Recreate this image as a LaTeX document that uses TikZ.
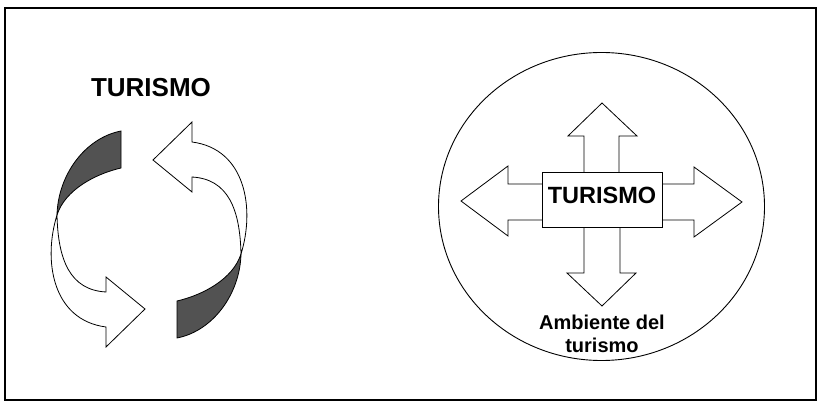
\documentclass[tikz,border=0pt]{standalone}
\usepackage{fontspec}
\setmainfont{Liberation Sans}
\usetikzlibrary{positioning}

\tikzset{
    outline/.style={draw=black, line width=0.8pt, line join=miter},
    whitepart/.style={outline, fill=white},
    shadedpart/.style={outline, fill=black!68},
    bigtitle/.style={font=\bfseries\fontsize{26}{30}\selectfont},
    boxlabel/.style={draw=black, line width=0.8pt, fill=white, minimum width=120pt,
        minimum height=55pt, text depth=8pt, inner sep=0pt,
        font=\bfseries\fontsize{23.5}{27}\selectfont},
    envlabel/.style={align=center, font=\bfseries\fontsize{20}{23}\selectfont}
}

\begin{document}
\begin{tikzpicture}[x=1pt, y=-1pt]
    \useasboundingbox (0,0) rectangle (820,406);

    % Outer frame
    \draw[line width=1.5pt] (5,8) rectangle (816,400);

    % Left part: title and twisted cycle arrows
    \node[bigtitle] (title) at (151,88) {TURISMO};

    \foreach \ang in {0,180} {
        \begin{scope}[rotate around={\ang:(149,234.5)}]
            % white ribbon ending in the arrow head
            \draw[whitepart] (57,215) .. controls (58,260) and (70,290) .. (106,292)
                -- (106,277) -- (145,309) -- (106,347) -- (106,327)
                .. controls (52,320) and (43,260) .. (57,215) -- cycle;
            % shaded back side of the ribbon
            \draw[shadedpart] (121,131) -- (121,168)
                .. controls (95,174) and (65,190) .. (57,215)
                .. controls (58,175) and (85,138) .. (121,131) -- cycle;
        \end{scope}
    }

    % Right part: environment circle
    \draw[line width=0.9pt] (601.5,206.5) ellipse [x radius=163, y radius=154];

    % Block arrows out of the centre box
    \draw[whitepart] (584,172) -- (584,136) -- (568,136) -- (602,103)
        -- (637,136) -- (619,136) -- (619,172);
    \draw[whitepart] (542,184) -- (508,184) -- (508,166) -- (461,201)
        -- (508,236) -- (508,220) -- (542,220);
    \draw[whitepart] (662,184) -- (694,184) -- (694,167) -- (742,202)
        -- (694,237) -- (694,220) -- (662,220);
    \draw[whitepart] (584,227) -- (584,273) -- (567,273) -- (602,306)
        -- (636,273) -- (620,273) -- (620,227);

    \node[boxlabel] (box) at (602,199.5) {TURISMO};

    \node[envlabel] (env) at (602,334) {Ambiente del\\turismo};

\end{tikzpicture}
\end{document}
